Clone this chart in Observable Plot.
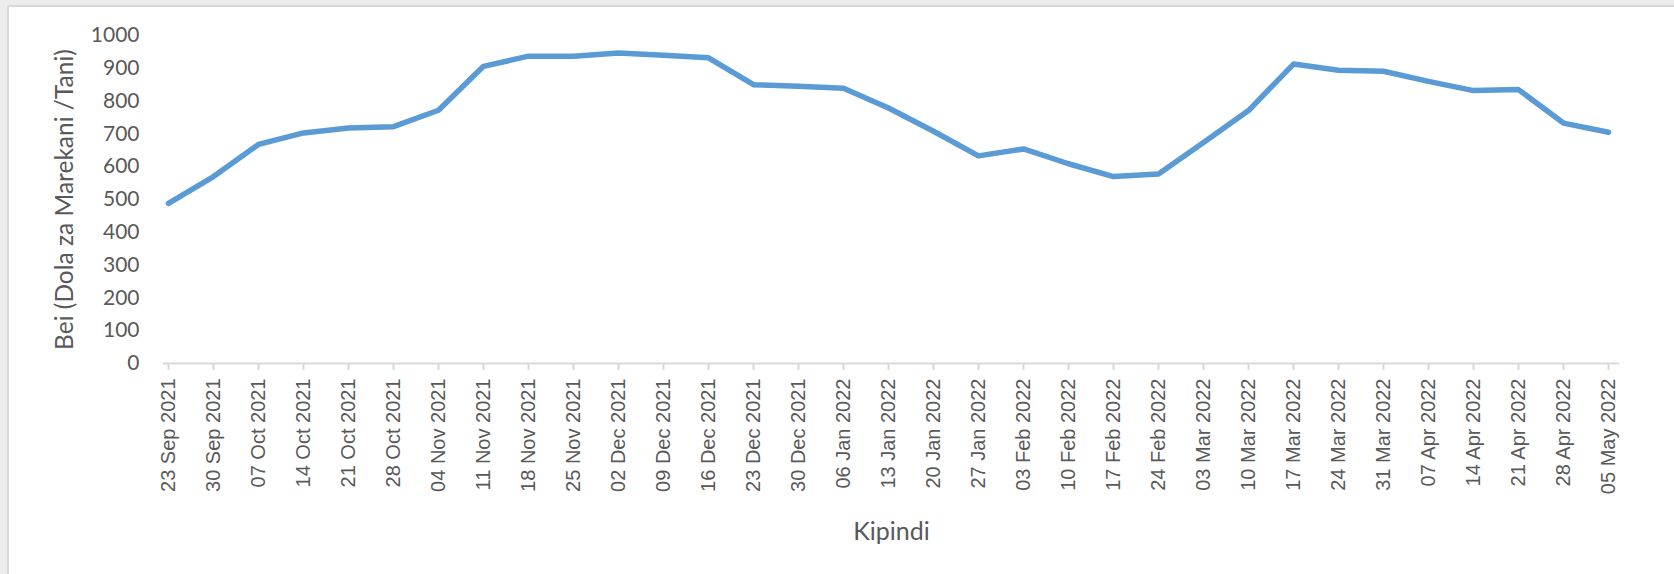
<!DOCTYPE html>
<html>
<head>
<meta charset="utf-8">
<script src="https://cdn.jsdelivr.net/npm/d3@7"></script>
<script src="https://cdn.jsdelivr.net/npm/@observablehq/plot@0.6"></script>
<style>
  html, body { margin: 0; padding: 0; width: 1674px; height: 574px; overflow: hidden; background: #ececec; }
  #panel { position: absolute; left: 7px; top: 5px; right: 0; bottom: 0; background: #ffffff;
           border-left: 2px solid #d9d9d9; border-top: 2px solid #d9d9d9; }
  #chart { position: absolute; left: 0; top: 0; }
</style>
</head>
<body>
<div id="panel"></div>
<div id="chart"></div>
<script>
const dates = ["23 Sep 2021","30 Sep 2021","07 Oct 2021","14 Oct 2021","21 Oct 2021","28 Oct 2021",
  "04 Nov 2021","11 Nov 2021","18 Nov 2021","25 Nov 2021","02 Dec 2021","09 Dec 2021","16 Dec 2021",
  "23 Dec 2021","30 Dec 2021","06 Jan 2022","13 Jan 2022","20 Jan 2022","27 Jan 2022","03 Feb 2022",
  "10 Feb 2022","17 Feb 2022","24 Feb 2022","03 Mar 2022","10 Mar 2022","17 Mar 2022","24 Mar 2022",
  "31 Mar 2022","07 Apr 2022","14 Apr 2022","21 Apr 2022","28 Apr 2022","05 May 2022"];
const prices = [488, 570, 668, 703, 718, 722, 772, 906, 937, 937, 947, 940, 932, 850, 845, 839, 779,
  708, 633, 654, 609, 570, 578, 674, 771, 913, 894, 891, 860, 832, 835, 733, 705];
const yTicks = [0, 100, 200, 300, 400, 500, 600, 700, 800, 900, 1000];
const yTitle = "Bei (Dola za Marekani /Tani)";
const xTitle = "Kipindi";

const data = dates.map((d, i) => ({date: d, price: prices[i]}));

const chart = Plot.plot({
  width: 1674,
  height: 574,
  marginLeft: 163,
  marginRight: 55,
  marginTop: 35,
  marginBottom: 211,
  style: {background: "transparent", color: "#595959"},
  x: {type: "point", domain: dates, padding: 0, insetRight: 7},
  y: {domain: [0, 1000]},
  marks: [
    Plot.ruleY([0], {stroke: "#d9d9d9", strokeWidth: 2}),
    Plot.axisY(yTicks, {tickSize: 0, tickPadding: 24, tickFormat: d => String(d), fontSize: 21,
      fontFamily: "Lato", fill: "#595959", label: null}),
    Plot.axisX({tickSize: 7, tickPadding: 8, tickRotate: -90, stroke: "#d9d9d9", strokeWidth: 2,
      fontSize: 20, fontFamily: "Liberation Sans", fill: "#595959", label: null}),
    Plot.line(data, {x: "date", y: "price", stroke: "#5B9BD5", strokeWidth: 5.5,
      strokeLinejoin: "round", strokeLinecap: "round"}),
    Plot.text([yTitle], {frameAnchor: "left", dx: -98, rotate: -90, textAnchor: "middle",
      lineAnchor: "middle", fontSize: 24.5, fontFamily: "Lato", fill: "#595959"}),
    Plot.text([xTitle], {frameAnchor: "bottom", dy: 168, textAnchor: "middle", lineAnchor: "middle",
      fontSize: 25, fontFamily: "Lato", fill: "#595959"})
  ]
});
document.getElementById("chart").appendChild(chart);
</script>
</body>
</html>
